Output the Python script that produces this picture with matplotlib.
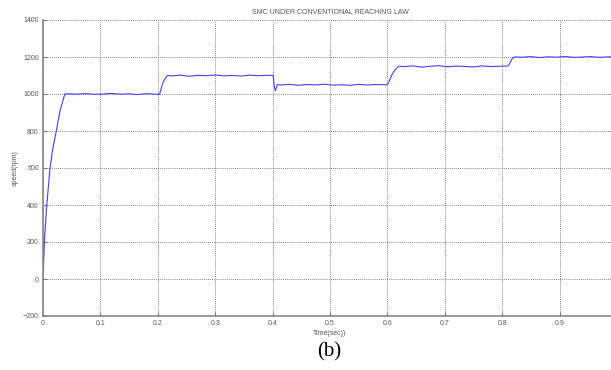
import numpy as np
import matplotlib.pyplot as plt

# speed response (time in s, speed in rpm)
t_rise = [0.0, 0.003, 0.0064, 0.012, 0.0168, 0.0237, 0.0295, 0.038]
v_rise = [0, 232, 393, 592, 700, 808, 907, 1000]

t_seg1 = [0.045, 0.06, 0.075, 0.09, 0.105, 0.12, 0.135, 0.15, 0.165, 0.18, 0.195, 0.203]
v_seg1 = [1001, 999, 1002, 998, 1000, 1003, 999, 1001, 997, 1002, 999, 998]

t_step2 = [0.206, 0.209, 0.213, 0.217]
v_step2 = [1030, 1062, 1085, 1100]

t_seg2 = [0.225, 0.24, 0.255, 0.27, 0.285, 0.3, 0.315, 0.33, 0.345, 0.36, 0.375, 0.39, 0.401]
v_seg2 = [1098, 1102, 1096, 1101, 1099, 1103, 1098, 1100, 1097, 1102, 1099, 1101, 1100]

t_step3 = [0.403, 0.405, 0.408]
v_step3 = [1040, 1018, 1050]

t_seg3 = [0.415, 0.43, 0.445, 0.46, 0.475, 0.49, 0.505, 0.52, 0.535, 0.55, 0.565, 0.58, 0.6]
v_seg3 = [1049, 1052, 1047, 1051, 1049, 1053, 1048, 1050, 1047, 1052, 1049, 1051, 1050]

t_step4 = [0.604, 0.608, 0.613, 0.62]
v_step4 = [1075, 1105, 1130, 1150]

t_seg4 = [0.63, 0.645, 0.66, 0.675, 0.69, 0.705, 0.72, 0.735, 0.75, 0.765, 0.78, 0.795, 0.81]
v_seg4 = [1148, 1152, 1145, 1150, 1153, 1147, 1151, 1149, 1146, 1152, 1148, 1150, 1151]

t_step5 = [0.813, 0.817, 0.822]
v_step5 = [1165, 1190, 1200]

t_seg5 = [0.835, 0.85, 0.865, 0.88, 0.895, 0.91, 0.925, 0.94, 0.955, 0.97, 0.985, 1.0]
v_seg5 = [1199, 1202, 1197, 1201, 1199, 1203, 1198, 1200, 1202, 1198, 1201, 1200]

x_ticks = [0, 0.1, 0.2, 0.3, 0.4, 0.5, 0.6, 0.7, 0.8, 0.9]
y_ticks = [-200, 0, 200, 400, 600, 800, 1000, 1200, 1400]

t = np.concatenate([t_rise, t_seg1, t_step2, t_seg2, t_step3, t_seg3,
                    t_step4, t_seg4, t_step5, t_seg5])
v = np.concatenate([v_rise, v_seg1, v_step2, v_seg2, v_step3, v_seg3,
                    v_step4, v_seg4, v_step5, v_seg5])

plt.rcParams['font.family'] = 'Liberation Sans'
txt = '#555555'

fig = plt.figure(figsize=(6.11, 3.70), dpi=100)
ax = fig.add_axes([43 / 611, 1 - 316 / 370, (617 - 43) / 611, (316 - 20) / 370])

ax.plot(t, v, color='#4040ff', linewidth=0.8)

ax.set_xlim(0, 1)
ax.set_ylim(-200, 1400)
ax.set_xticks(x_ticks)
ax.set_yticks(y_ticks)
ax.set_xticklabels([f'{x:g}' for x in x_ticks])
ax.tick_params(direction='in', length=3, width=0.8, color='#777777',
               labelsize=5, labelcolor=txt, pad=3)
ax.grid(True, linestyle=(0, (1, 1.5)), color='#555555', linewidth=0.6)

for side in ['top', 'right']:
    ax.spines[side].set_visible(False)
for side in ['left', 'bottom']:
    ax.spines[side].set_color('#888888')
    ax.spines[side].set_linewidth(1.2)

ax.set_title('SMC UNDER CONVENTIONAL REACHING LAW', fontsize=5, color=txt, pad=4)
ax.set_xlabel('Time(sec))', fontsize=5, color=txt, labelpad=2)
ax.set_ylabel('speed(rpm)', fontsize=5, color=txt, labelpad=3)

fig.text(329 / 611, 1 - 352 / 370, '(b)', fontsize=15, family='Liberation Serif',
         ha='center', va='center', color='black')

fig.savefig('out.png', dpi=100)
